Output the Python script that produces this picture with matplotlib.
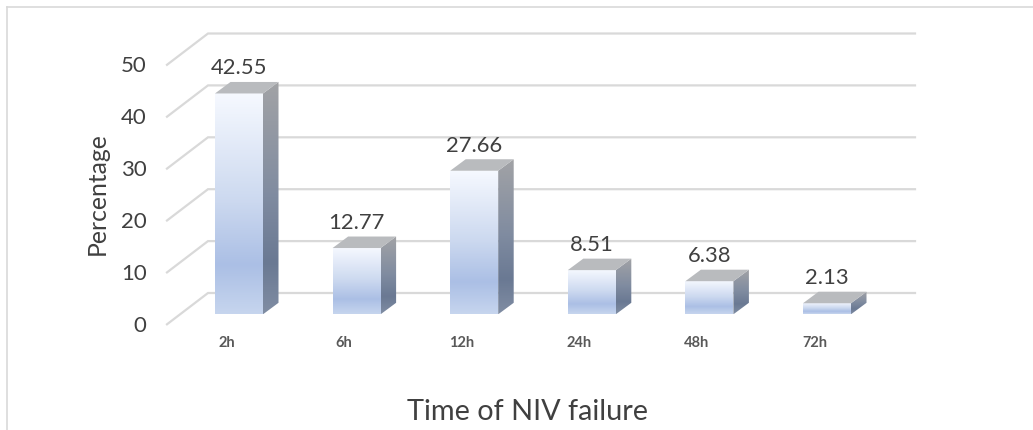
import matplotlib
matplotlib.use("Agg")
from matplotlib import pyplot as plt
from matplotlib.colors import LinearSegmentedColormap
from matplotlib.patches import Polygon
import numpy as np

plt.rcParams['font.family'] = ['Lato', 'DejaVu Sans']

categories = ["2h", "6h", "12h", "24h", "48h", "72h"]
values = [42.55, 12.77, 27.66, 8.51, 6.38, 2.13]
labels = ["42.55", "12.77", "27.66", "8.51", "6.38", "2.13"]
y_ticks = [0, 10, 20, 30, 40, 50]

W, H = 1033, 430
# picture calibration: first bar centre, bar spacing, baseline, px per percent
X0, STEP, BASE, PPU = 239.0, 117.6, 314.3, 5.19

fig = plt.figure(figsize=(W / 100, H / 100), dpi=100)
ax = fig.add_axes([0, 0, 1, 1])
ax.axis('off')

dx = lambda px: px / STEP
dy = lambda px: px / PPU

front_cmap = LinearSegmentedColormap.from_list(
    'front', [(0, '#F6F9FF'), (0.5, '#CBD8EF'), (0.78, '#ABBFE5'), (1, '#C6D5EE')])
side_cmap = LinearSegmentedColormap.from_list(
    'side', [(0, '#A2A3A6'), (0.5, '#7F8BA0'), (0.78, '#6A7993'), (1, '#808DA3')])
grad = np.linspace(0, 1, 128).reshape(-1, 1)


def shaded(poly, cmap, extent, z):
    im = ax.imshow(grad, cmap=cmap, extent=extent, aspect='auto', zorder=z, vmin=0, vmax=1)
    patch = Polygon(poly, closed=True, transform=ax.transData, fc='none', ec='none')
    ax.add_patch(patch)
    im.set_clip_path(patch)


# gridlines: slanted wall part, then along the back wall
for t in y_ticks:
    ax.plot([dx(167 - X0), dx(208 - X0), dx(915 - X0)],
            [t + dy(-10), t + dy(21.3), t + dy(21.3)],
            color='#D9D9D9', lw=1.6, zorder=1, solid_joinstyle='miter')
    ax.text(dx(146.5 - X0), t + dy(-9.5), str(t), ha='right', va='center_baseline',
            fontsize=16, color='#404040')

half = dx(24)
side_x, side_y = dx(15.5), dy(11.5)
for i, (v, cat, lab) in enumerate(zip(values, categories, labels)):
    l, r = i - half, i + half
    shaded([(l, 0), (r, 0), (r, v), (l, v)], front_cmap, (l, r, 0, v), 3)
    shaded([(r, 0), (r + side_x, side_y), (r + side_x, v + side_y), (r, v)],
           side_cmap, (r, r + side_x, 0, v + side_y), 3)
    ax.add_patch(Polygon([(l, v), (r, v), (r + side_x, v + side_y), (l + side_x, v + side_y)],
                         closed=True, fc='#B9BBBE', ec='none', zorder=3))
    ax.text(i, v + side_y + dy(3.5), lab, ha='center', va='bottom',
            fontsize=15.8, color='#404040', zorder=4)
    ax.text(i + dx(-12.5), dy(-29), cat, ha='center', va='center',
            fontsize=10.5, fontweight='bold', color='#595959')

ax.text(dx(97 - X0), dy(BASE - 194), "Percentage", rotation=90, ha='center', va='center',
        fontsize=17.8, color='#404040')
ax.text(dx(528 - X0), dy(BASE - 412), "Time of NIV failure", ha='center', va='center',
        fontsize=20.8, color='#404040')

# chart area border, top and left only
ax.plot([dx(7 - X0), dx(7 - X0)], [dy(BASE - 430), dy(BASE - 7)], color='#D9D9D9', lw=1.2, zorder=1)
ax.plot([dx(7 - X0), dx(1033 - X0)], [dy(BASE - 7), dy(BASE - 7)], color='#D9D9D9', lw=1.2, zorder=1)

# set limits last, imshow resets them
ax.set_xlim((0 - X0) / STEP, (W - X0) / STEP)
ax.set_ylim((BASE - H) / PPU, BASE / PPU)

fig.savefig("out.png", dpi=100)
